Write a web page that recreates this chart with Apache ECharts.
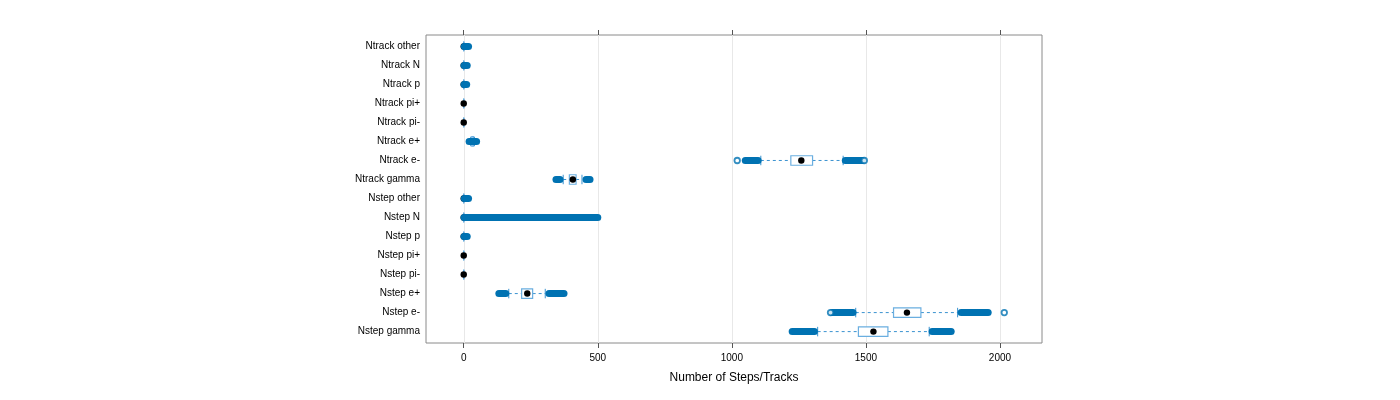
<!DOCTYPE html>
<html>
<head>
<meta charset="utf-8">
<script src="https://cdn.jsdelivr.net/npm/echarts@6/dist/echarts.min.js"></script>
<style>html,body{margin:0;padding:0;background:#fff}#c{width:1400px;height:400px}</style>
</head>
<body>
<div id="c"></div>
<script>
// categories from bottom to top
const categories = ["Nstep gamma","Nstep e-","Nstep e+","Nstep pi-","Nstep pi+","Nstep p","Nstep N","Nstep other",
  "Ntrack gamma","Ntrack e-","Ntrack e+","Ntrack pi-","Ntrack pi+","Ntrack p","Ntrack N","Ntrack other"];
const q1          = [1472,1603,216,0,0,0,0,0, 394,1220,30,0,0,0,0,0];
const median      = [1528,1653,237,0,0,0,0,0, 407,1259,33,0,0,0,0,0];
const q3          = [1582,1705,257,0,0,0,0,0, 419,1301,36,0,0,0,0,0];
const whiskerLow  = [1320,1462,168,0,0,0,0,0, 371,1108,26,0,0,0,0,0];
const whiskerHigh = [1736,1842,304,0,0,0,0,0, 441,1415,40,0,0,0,0,0];
// dense runs of outliers: [category index, from, to]
const outlierBands = [
  [0,1225,1308],[0,1747,1818],
  [1,1374,1452],[1,1855,1956],
  [2,131,157],[2,318,374],
  [5,1,13],[6,1,500],[7,2,18],
  [8,344,359],[8,456,471],
  [9,1050,1098],[9,1423,1487],
  [10,20,48],[13,1,11],[14,1,13],[15,2,18]
];
// isolated outliers: [category index, value]
const isolatedOutliers = [[1,1368],[1,2016],[9,1020],[9,1494]];
const xTicks = [0,500,1000,1500,2000];

const XMIN = -140.7, XMAX = 2156.7, YMIN = 0.4, YMAX = 16.6;
const FONT = "'Liberation Sans', Arial, sans-serif";
const OUT = '#0072B2', BOX = '#6aaee0', WHISK = '#3b93d0';

const boxData = categories.map((c,i)=>[i+1,q1[i],median[i],q3[i],whiskerLow[i],whiskerHigh[i]]);

const chart = echarts.init(document.getElementById('c'), null, {renderer:'canvas'});
chart.setOption({
  animation:false,
  backgroundColor:'#fff',
  grid:{left:426, top:35, width:616, height:308, show:true, borderColor:'#8a8a8a', borderWidth:1, backgroundColor:'transparent'},
  xAxis:[{
    type:'value', min:XMIN, max:XMAX, position:'bottom',
    axisLine:{show:false}, splitLine:{show:false},
    axisTick:{show:true, customValues:xTicks, length:5, lineStyle:{color:'#555'}},
    axisLabel:{customValues:xTicks, formatter:v=>String(v), fontFamily:FONT, fontSize:10, color:'#000', margin:10},
    name:'Number of Steps/Tracks', nameLocation:'middle', nameGap:29,
    nameTextStyle:{fontFamily:FONT, fontSize:12, color:'#000'}
  },{
    type:'value', min:XMIN, max:XMAX, position:'top',
    axisLine:{show:false}, splitLine:{show:false},
    axisTick:{show:true, customValues:xTicks, length:5, lineStyle:{color:'#555'}},
    axisLabel:{show:false}
  }],
  yAxis:{
    type:'value', min:YMIN, max:YMAX,
    axisLine:{show:false}, axisTick:{show:false}, splitLine:{show:false},
    axisLabel:{customValues:categories.map((c,i)=>i+1), formatter:v=>categories[Math.round(v)-1]||'',
      fontFamily:FONT, fontSize:10, color:'#000', margin:6}
  },
  series:[
    { // vertical reference lines
      type:'custom', z:1, silent:true,
      data:xTicks.map(v=>[v]),
      encode:{x:0},
      renderItem:(p,api)=>{
        const a=api.coord([api.value(0),YMIN]), b=api.coord([api.value(0),YMAX]);
        return {type:'line', shape:{x1:Math.round(a[0])+0.5,y1:a[1],x2:Math.round(a[0])+0.5,y2:b[1]}, style:{stroke:'#e8e8e8',lineWidth:1}};
      }
    },
    { // boxes, whiskers, medians
      type:'custom', z:2, silent:true,
      data:boxData,
      encode:{x:[1,2,3,4,5], y:0},
      renderItem:(p,api)=>{
        const y=api.value(0);
        const P=v=>api.coord([v,y]);
        const h=api.size([0,0.5])[1];
        const lo=P(api.value(4)), a=P(api.value(1)), m=P(api.value(2)), b=P(api.value(3)), hi=P(api.value(5));
        const cy=a[1];
        const dash={stroke:WHISK,lineWidth:1,lineDash:[3,3],fill:null};
        return {type:'group', children:[
          {type:'line', shape:{x1:lo[0],y1:cy,x2:a[0],y2:cy}, style:dash},
          {type:'line', shape:{x1:b[0],y1:cy,x2:hi[0],y2:cy}, style:dash},
          {type:'line', shape:{x1:lo[0],y1:cy-h/2,x2:lo[0],y2:cy+h/2}, style:{stroke:WHISK,lineWidth:1}},
          {type:'line', shape:{x1:hi[0],y1:cy-h/2,x2:hi[0],y2:cy+h/2}, style:{stroke:WHISK,lineWidth:1}},
          {type:'rect', shape:{x:a[0],y:cy-h/2,width:b[0]-a[0],height:h}, style:{stroke:BOX,lineWidth:1.2,fill:'#fff'}},
          {type:'circle', shape:{cx:m[0],cy:cy,r:3.2}, style:{fill:'#000'}}
        ]};
      }
    },
    { // dense outlier runs
      type:'custom', z:3, silent:true,
      data:outlierBands.map(d=>[d[0]+1,d[1],d[2]]),
      encode:{x:[1,2], y:0},
      renderItem:(p,api)=>{
        const y=api.value(0);
        const a=api.coord([api.value(1),y]), b=api.coord([api.value(2),y]);
        return {type:'line', shape:{x1:a[0],y1:a[1],x2:b[0],y2:b[1]}, style:{stroke:OUT,lineWidth:7,lineCap:'round'}};
      }
    },
    {
      type:'scatter', z:4, silent:true,
      data:isolatedOutliers.map(d=>[d[1],d[0]+1]),
      symbol:'circle', symbolSize:5.5,
      itemStyle:{color:'#fff', borderColor:OUT, borderWidth:1.8}
    }
  ]
});
</script>
</body>
</html>
